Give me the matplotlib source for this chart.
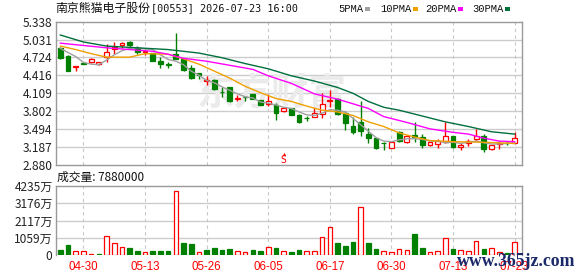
import matplotlib
matplotlib.use("Agg")
import matplotlib.pyplot as plt
from matplotlib.patches import Rectangle

# daily candles (oldest first)
opens = [4.88, 4.75, 4.56, 4.63, 4.64, 4.61, 4.73, 4.87, 4.94, 4.99,
         4.89, 4.81, 4.80, 4.66, 4.62, 4.78, 4.70, 4.54, 4.45, 4.32,
         4.34, 4.14, 4.22, 4.01, 4.05, 4.09, 3.99, 3.93, 3.91, 3.80,
         3.85, 3.73, 3.69, 3.71, 3.75, 3.97, 4.02, 3.77, 3.55, 3.62,
         3.42, 3.34, 3.26, 3.18, 3.44, 3.27, 3.39, 3.36, 3.23, 3.24,
         3.28, 3.37, 3.19, 3.25, 3.33, 3.38, 3.15, 3.24, 3.26, 3.26]
highs = [4.90, 4.76, 4.57, 4.635, 4.71, 4.65, 4.95, 4.99, 4.995, 5.00,
         4.92, 4.86, 4.80, 4.73, 4.64, 5.15, 4.72, 4.60, 4.46, 4.40,
         4.35, 4.21, 4.22, 4.08, 4.06, 4.10, 4.00, 4.09, 3.94, 3.86,
         3.86, 3.75, 3.72, 3.85, 4.11, 4.16, 4.03, 3.80, 3.71, 3.97,
         3.51, 3.34, 3.27, 3.28, 3.46, 3.39, 3.61, 3.41, 3.30, 3.32,
         3.61, 3.38, 3.25, 3.32, 3.50, 3.41, 3.23, 3.29, 3.29, 3.45]
lows = [4.70, 4.49, 4.50, 4.615, 4.63, 4.60, 4.64, 4.79, 4.88, 4.91,
        4.78, 4.77, 4.66, 4.55, 4.54, 4.70, 4.49, 4.35, 4.36, 4.25,
        4.17, 4.05, 3.96, 3.97, 3.97, 4.02, 3.91, 3.90, 3.65, 3.79,
        3.73, 3.60, 3.64, 3.70, 3.68, 3.88, 3.74, 3.48, 3.41, 3.38,
        3.25, 3.16, 3.13, 3.18, 3.28, 3.26, 3.27, 3.18, 3.21, 3.18,
        3.26, 3.18, 3.13, 3.21, 3.29, 3.10, 3.14, 3.15, 3.22, 3.25]
closes = [4.72, 4.50, 4.57, 4.62, 4.70, 4.64, 4.81, 4.91, 4.98, 4.93,
          4.81, 4.83, 4.67, 4.62, 4.60, 4.70, 4.51, 4.38, 4.43, 4.33,
          4.18, 4.13, 3.97, 4.03, 4.04, 4.02, 3.91, 3.97, 3.78, 3.85,
          3.74, 3.62, 3.68, 3.77, 3.92, 4.00, 3.75, 3.60, 3.45, 3.46,
          3.35, 3.17, 3.25, 3.27, 3.29, 3.38, 3.36, 3.22, 3.28, 3.285,
          3.37, 3.19, 3.22, 3.29, 3.37, 3.15, 3.22, 3.26, 3.25, 3.34]

# volume in 万 shares, and bar colour (u = close up vs previous close)
volumes = [307, 614, 225, 225, 61, 61, 1146, 716, 470, 430,
           245, 164, 245, 245, 245, 3930, 737, 675, 164, 307,
           430, 307, 368, 225, 164, 307, 245, 491, 430, 225,
           184, 307, 225, 225, 1085, 1699, 737, 553, 798, 2926,
           737, 368, 225, 164, 348, 286, 1289, 430, 164, 225,
           1044, 368, 286, 225, 839, 368, 409, 164, 123, 788]
vol_dir = list("dduuuduuud" "duddduddud" "ddduuddudu"
               "dduuuudddu" "dduuuudduu" "uduuuduudu")

# moving averages
ma5 = [4.88, 4.81, 4.74, 4.64, 4.61, 4.60, 4.68, 4.77, 4.84, 4.88,
       4.89, 4.87, 4.86, 4.77, 4.69, 4.66, 4.60, 4.49, 4.42, 4.33,
       4.29, 4.22, 4.16, 4.10, 4.05, 4.03, 3.96, 3.94, 3.91, 3.87,
       3.85, 3.79, 3.74, 3.73, 3.77, 3.83, 3.82, 3.79, 3.68, 3.57,
       3.46, 3.35, 3.29, 3.28, 3.31, 3.33, 3.33, 3.32, 3.29, 3.29,
       3.26, 3.27, 3.25, 3.27, 3.29, 3.26, 3.24, 3.24, 3.25, 3.26]
ma10_x = [0, 2, 4, 6, 9, 11, 14, 16, 18, 20, 22, 24, 26, 28, 30, 32,
          34, 36, 38, 40, 42, 44, 46, 48, 51, 55, 59]
ma10 = [4.92, 4.86, 4.79, 4.73, 4.73, 4.79, 4.78, 4.70, 4.61, 4.49,
        4.37, 4.23, 4.12, 4.02, 3.97, 3.89, 3.82, 3.79, 3.73, 3.62,
        3.54, 3.43, 3.36, 3.30, 3.28, 3.27, 3.25]
ma20_x = [0, 3, 6, 9, 12, 14, 16, 19, 22, 25, 27, 30, 33, 36, 38, 40,
          42, 45, 48, 51, 53, 55, 57, 59]
ma20 = [4.97, 4.93, 4.89, 4.86, 4.83, 4.78, 4.71, 4.66, 4.59, 4.52,
        4.41, 4.28, 4.10, 4.01, 3.93, 3.85, 3.71, 3.61, 3.50, 3.44,
        3.41, 3.34, 3.29, 3.28]
ma30_x = [0, 3, 6, 10, 14, 18, 21, 24, 27, 30, 33, 36, 38, 40, 42,
          44, 47, 50, 53, 56, 59]
ma30 = [5.11, 4.99, 4.92, 4.89, 4.86, 4.80, 4.72, 4.62, 4.53, 4.41,
        4.32, 4.21, 4.11, 3.97, 3.87, 3.82, 3.72, 3.62, 3.54, 3.45, 3.41]

price_ticks = [5.338, 5.031, 4.724, 4.416, 4.109, 3.802, 3.494, 3.187, 2.880]
vol_ticks = [0, 1059, 2117, 3176, 4235]
vol_tick_labels = ["0", "1059万", "2117万", "3176万", "4235万"]
date_pos = [3, 11, 19, 27, 35, 43, 51, 59]
date_labels = ["04-30", "05-13", "05-26", "06-05", "06-17", "06-30", "07-13", "07-23"]

RED = "#ff0000"
GREEN = "#008000"
FRAME = "#999999"
GRID = "#cccccc"
CJK = ["Noto Sans CJK SC", "DejaVu Sans"]

W, H = 578, 276
fig = plt.figure(figsize=(W / 100, H / 100), dpi=100)
fig.patch.set_facecolor("white")

x_left, x_right = 56, 522.3
ax_p = fig.add_axes([x_left / W, 1 - 165 / H, (x_right - x_left) / W, (165 - 21.7) / H])
ax_v = fig.add_axes([x_left / W, 1 - 255 / H, (x_right - x_left) / W, (255 - 186) / H])

n = len(closes)
xlim = (-0.56, n - 0.01)


def style_axes(ax, ticks, labels):
    ax.set_xlim(*xlim)
    ax.set_yticks(ticks)
    ax.set_yticklabels(labels, family=CJK, fontsize=8.6, color="#222222")
    ax.tick_params(axis="y", length=0, pad=2.5)
    for s in ax.spines.values():
        s.set_color(FRAME)
        s.set_linewidth(1.0)
    for t in ticks[1:-1]:
        ax.axhline(t, color=GRID, lw=1.0, zorder=0)
    for d in date_pos:
        ax.axvline(d, color="#c8c8c8", lw=0.8, ls=(0, (3, 3)), zorder=0)


# ---- price panel ----
ax_p.set_ylim(2.880, 5.338)
style_axes(ax_p, price_ticks[::-1], ["%.3f" % t for t in price_ticks[::-1]])
ax_p.set_xticks([])

ax_p.text(27.5, 4.09, "东方财富", family=CJK, fontweight="bold", fontsize=27,
          color="#ebebeb", ha="center", va="center", zorder=0.5)

bw = 0.62
for i in range(n):
    o, h, l, c = opens[i], highs[i], lows[i], closes[i]
    up = c >= o
    col = RED if up else GREEN
    ax_p.vlines(i, l, h, color=col, lw=1.0, zorder=2)
    bot = min(o, c)
    hgt = max(abs(c - o), 0.004)
    ax_p.add_patch(Rectangle((i - bw / 2, bot), bw, hgt,
                             facecolor="white" if up else GREEN,
                             edgecolor=col, lw=0.9, zorder=3))

ax_p.plot(range(n), ma5, color="#a0a0a0", lw=1.0, zorder=4)
ax_p.plot(ma10_x, ma10, color="#f0a000", lw=1.0, zorder=4)
ax_p.plot(ma20_x, ma20, color="#ff00ff", lw=1.0, zorder=4)
ax_p.plot(ma30_x, ma30, color="#00703c", lw=1.0, zorder=4)

# sell marker
ax_p.text(29, 2.965, "S", color=RED, fontsize=7, ha="center", va="center",
          family="DejaVu Sans Mono")
ax_p.plot([29], [3.07], marker="^", ms=2.5, color=RED, mew=0)

# ---- volume panel ----
ax_v.set_ylim(0, 4235)
style_axes(ax_v, vol_ticks, vol_tick_labels)
ax_v.spines["bottom"].set_visible(False)
vbw = 0.6
for i in range(n):
    up = vol_dir[i] == "u"
    ax_v.add_patch(Rectangle((i - vbw / 2, 0), vbw, volumes[i],
                             facecolor="white" if up else GREEN,
                             edgecolor=RED if up else GREEN, lw=0.9, zorder=3))
ax_v.set_xticks(date_pos)
ax_v.set_xticklabels(date_labels, color=RED, fontsize=8.3, family="Liberation Sans")
ax_v.tick_params(axis="x", length=0, pad=4)

# ---- header texts ----
fig.text(55 / W, 1 - 8.5 / H, "南京熊猫电子股份", family=CJK, fontsize=8.6,
         color="#111111", va="center", ha="left")
fig.text(151 / W, 1 - 8.5 / H, "[00553] 2026-07-23 16:00", family="DejaVu Sans Mono",
         fontsize=7.3, color="#111111", va="center", ha="left")

legend = [("5PMA", "#a0a0a0", 338), ("10PMA", "#f0a000", 380),
          ("20PMA", "#ff00ff", 425), ("30PMA", "#00703c", 472)]
for lab, col, x0 in legend:
    fig.text(x0 / W, 1 - 8.5 / H, lab, family="Liberation Mono", fontsize=7.6,
             color="#111111", va="center", ha="left")
    xe = x0 + 6.2 * len(lab) + 2
    fig.add_artist(Rectangle((xe / W, 1 - 10.5 / H), 5 / W, 4 / H,
                             transform=fig.transFigure, color=col, lw=0))

fig.text(57 / W, 1 - 177 / H, "成交量: 7880000", family=CJK, fontsize=8.5,
         color="#111111", va="center", ha="left")

fig.text(516 / W, 1 - 262 / H, "www.365jz.com", family="Liberation Serif",
         fontweight="bold", fontsize=12.8, color="#1c2a6b", va="center", ha="center")

fig.savefig("out.png", dpi=100)
